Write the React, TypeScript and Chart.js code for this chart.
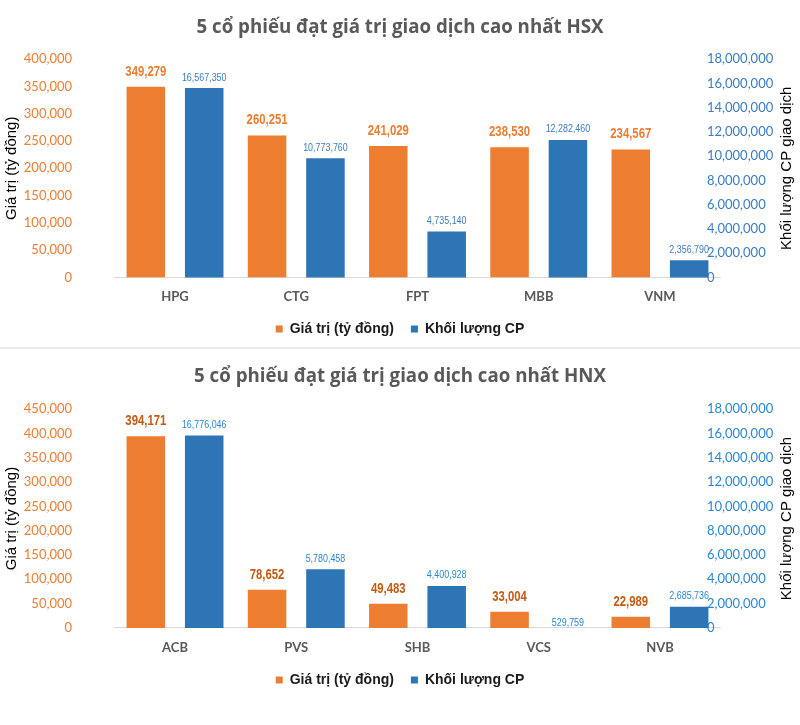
import React, { useEffect, useRef } from 'react';
import { Chart, registerables } from 'chart.js';

Chart.register(...registerables);

// ---------- data ----------
const HSX_TITLE = '5 cổ phiếu đạt giá trị giao dịch cao nhất HSX';
const HSX_CATEGORIES = ['HPG', 'CTG', 'FPT', 'MBB', 'VNM'];
const HSX_VALUE = [349279, 260251, 241029, 238530, 234567];
const HSX_VOLUME = [16567350, 10773760, 4735140, 12282460, 2356790];
const HSX_VALUE_MAX = 400000;

const HNX_TITLE = '5 cổ phiếu đạt giá trị giao dịch cao nhất HNX';
const HNX_CATEGORIES = ['ACB', 'PVS', 'SHB', 'VCS', 'NVB'];
const HNX_VALUE = [394171, 78652, 49483, 33004, 22989];
const HNX_VOLUME = [16776046, 5780458, 4400928, 529759, 2685736];
const HNX_VALUE_MAX = 450000;

const VALUE_STEP = 50000;
const VOLUME_MAX = 18000000;
const VOLUME_STEP = 2000000;
// in the reference the secondary axis "0" sits at roughly 0.95M
const VOLUME_AXIS_OFFSET = 950000;

const SERIES_VALUE = 'Giá trị (tỷ đồng)';
const SERIES_VOLUME = 'Khối lượng CP';
const LEFT_AXIS_TITLE = 'Giá trị (tỷ đồng)';
const RIGHT_AXIS_TITLE = 'Khối lượng CP giao dịch';

const ORANGE = '#ED7D31';
const BLUE = '#2E75B6';

const fmt = (v: number) => Math.round(v).toLocaleString('en-US');

// data labels in a condensed face (horizontally compressed sans)
const barLabelPlugin = {
  id: 'barLabels',
  afterDatasetsDraw(chart: any) {
    const ctx = chart.ctx;
    chart.data.datasets.forEach((ds: any, di: number) => {
      const meta = chart.getDatasetMeta(di);
      const st = ds.labelStyle;
      if (!st) return;
      meta.data.forEach((bar: any, i: number) => {
        const top = Math.min(bar.y, bar.base);
        ctx.save();
        ctx.font = st.font;
        ctx.fillStyle = st.color;
        ctx.textAlign = 'center';
        ctx.textBaseline = 'alphabetic';
        ctx.translate(bar.x, top - st.gap);
        ctx.scale(0.81, 1);
        ctx.fillText(fmt(ds.data[i]), 0, 0);
        ctx.restore();
      });
    });
  },
};

// secondary axis: tick labels start slightly inside the plot (as in the reference)
// and the axis title reads bottom-to-top
const rightAxisPlugin = {
  id: 'rightAxis',
  beforeDatasetsDraw(chart: any, _args: any, opts: any) {
    const s = chart.scales.y1;
    const ca = chart.chartArea;
    const ctx = chart.ctx;
    ctx.save();
    ctx.font = '13px Lato';
    ctx.fillStyle = opts.color;
    ctx.textAlign = 'left';
    ctx.textBaseline = 'middle';
    s.ticks.forEach((t: any) => {
      ctx.fillText(fmt(t.value - VOLUME_AXIS_OFFSET), ca.right - 13.6, s.getPixelForValue(t.value));
    });
    ctx.restore();

    ctx.save();
    ctx.translate(s.right - 13, (ca.top + ca.bottom) / 2);
    ctx.rotate(-Math.PI / 2);
    ctx.font = '15px "Liberation Sans", Arial, sans-serif';
    ctx.fillStyle = '#000000';
    ctx.textAlign = 'center';
    ctx.textBaseline = 'middle';
    ctx.fillText(RIGHT_AXIS_TITLE, 0, 0);
    ctx.restore();
  },
};

type Props = {
  title: string;
  categories: string[];
  values: number[];
  volumes: number[];
  valueMax: number;
  height: number;
  titlePad: { top: number; bottom: number };
  xPad: number;
  bottomPad: number;
  valueLabelColor: string;
  volumeLabelColor: string;
  volumeTickColor: string;
};

function ComboChart(p: Props) {
  const ref = useRef<HTMLCanvasElement | null>(null);
  useEffect(() => {
    if (!ref.current) return;
    const chart = new Chart(ref.current, {
      type: 'bar',
      data: {
        labels: p.categories,
        datasets: [
          {
            label: SERIES_VALUE,
            data: p.values,
            backgroundColor: ORANGE,
            borderWidth: 0,
            yAxisID: 'y',
            categoryPercentage: 0.963,
            barPercentage: 0.66,
            labelStyle: { font: 'bold 14px "Liberation Sans", Arial, sans-serif', color: p.valueLabelColor, gap: 11 },
          } as any,
          {
            label: SERIES_VOLUME,
            data: p.volumes,
            backgroundColor: BLUE,
            borderWidth: 0,
            yAxisID: 'y1',
            categoryPercentage: 0.963,
            barPercentage: 0.66,
            labelStyle: { font: '11px "Liberation Sans", Arial, sans-serif', color: p.volumeLabelColor, gap: 7.5 },
          } as any,
        ],
      },
      options: {
        responsive: false,
        animation: false,
        events: [],
        layout: { padding: { left: 0, right: 0, top: 0, bottom: p.bottomPad } },
        plugins: {
          title: {
            display: true,
            text: p.title,
            color: '#595959',
            font: { family: '"Open Sans"', size: 18.7, weight: 'bold', lineHeight: 1.2 },
            padding: p.titlePad,
          },
          legend: {
            display: true,
            position: 'bottom',
            labels: {
              boxWidth: 7,
              boxHeight: 7,
              padding: 17,
              color: '#1a1a1a',
              font: { family: '"Liberation Sans", Arial, sans-serif', size: 14, weight: 'bold' },
            },
          },
          tooltip: { enabled: false },
          rightAxis: { color: p.volumeTickColor },
        },
        scales: {
          x: {
            type: 'category',
            grid: { display: false, drawTicks: false },
            border: { display: true, color: '#d9d9d9', width: 1 },
            ticks: {
              color: '#595959',
              padding: p.xPad,
              font: { family: 'Lato', size: 13, weight: 'bold', lineHeight: 1.2 },
            },
            afterFit: (s: any) => {
              s.height = p.xPad + 15.6;
            },
          },
          y: {
            type: 'linear',
            position: 'left',
            min: 0,
            max: p.valueMax,
            grid: { display: false, drawTicks: false },
            border: { display: false },
            ticks: {
              stepSize: VALUE_STEP,
              color: ORANGE,
              padding: 42.4,
              font: { family: 'Lato', size: 13 },
              callback: (v: any) => fmt(Number(v)),
            },
            title: {
              display: true,
              text: LEFT_AXIS_TITLE,
              color: '#000000',
              font: { family: '"Liberation Sans", Arial, sans-serif', size: 15, lineHeight: 1.2 },
              padding: { top: 3, bottom: 3 },
            },
            afterFit: (s: any) => {
              s.width = 114.4;
            },
          },
          y1: {
            type: 'linear',
            position: 'right',
            min: VOLUME_AXIS_OFFSET,
            max: VOLUME_MAX + VOLUME_AXIS_OFFSET,
            grid: { display: false, drawTicks: false },
            border: { display: false },
            afterBuildTicks: (scale: any) => {
              const t = [];
              for (let v = 0; v <= VOLUME_MAX; v += VOLUME_STEP) t.push({ value: v + VOLUME_AXIS_OFFSET });
              scale.ticks = t;
            },
            ticks: { display: false },
            title: { display: false },
            afterFit: (s: any) => {
              s.width = 79.4;
            },
          },
        },
      } as any,
      plugins: [barLabelPlugin, rightAxisPlugin],
    });
    return () => chart.destroy();
  }, []);
  return <canvas ref={ref} width={800} height={p.height} style={{ display: 'block', width: 800, height: p.height }} />;
}

export default function App() {
  return (
    <div style={{ position: 'absolute', left: 0, top: 0, width: 800, height: 725, background: '#ffffff', overflow: 'hidden' }}>
      <ComboChart
        title={HSX_TITLE}
        categories={HSX_CATEGORIES}
        values={HSX_VALUE}
        volumes={HSX_VOLUME}
        valueMax={HSX_VALUE_MAX}
        height={347}
        titlePad={{ top: 16.5, bottom: 20.2 }}
        xPad={12}
        bottomPad={1}
        valueLabelColor="#ED7D31"
        volumeLabelColor="#3A7CC2"
        volumeTickColor="#3A7CC2"
      />
      <div style={{ height: 2, background: '#e8e8e8' }} />
      <ComboChart
        title={HNX_TITLE}
        categories={HNX_CATEGORIES}
        values={HNX_VALUE}
        volumes={HNX_VOLUME}
        valueMax={HNX_VALUE_MAX}
        height={376}
        titlePad={{ top: 16.8, bottom: 20.9 }}
        xPad={12.5}
        bottomPad={28}
        valueLabelColor="#C55A11"
        volumeLabelColor="#2B87D3"
        volumeTickColor="#2B87D3"
      />
    </div>
  );
}
